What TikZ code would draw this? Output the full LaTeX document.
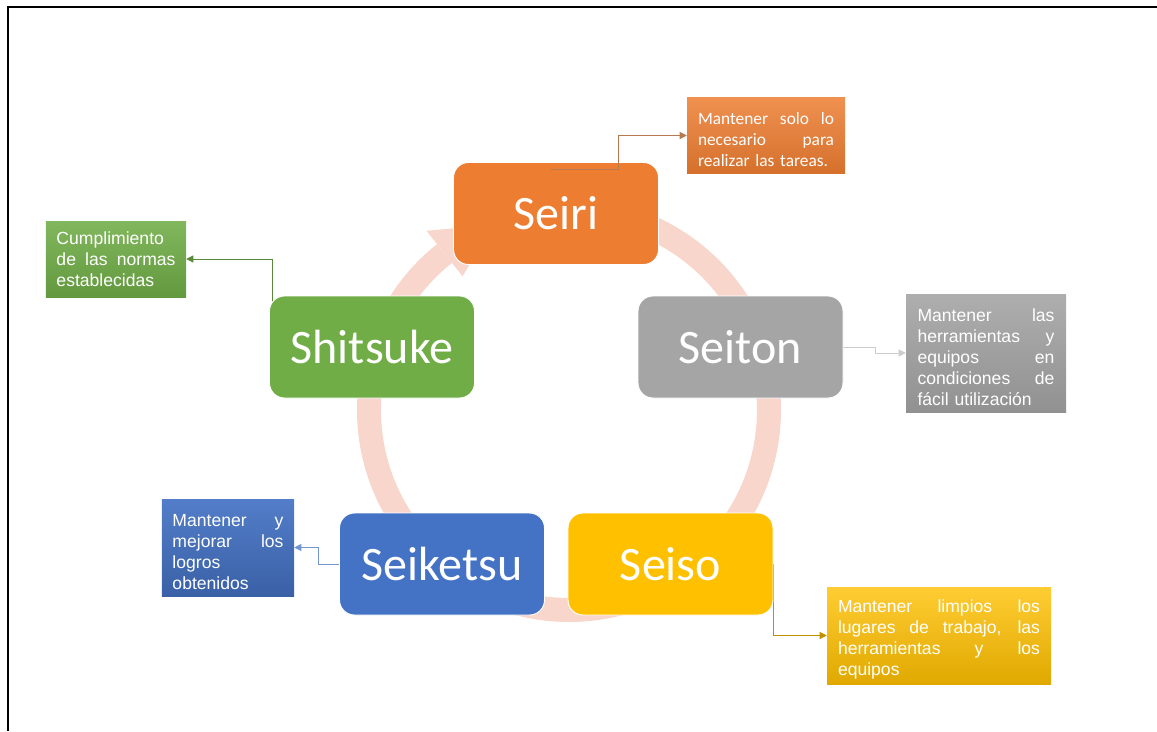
\documentclass[tikz,border=0pt]{standalone}
\usepackage{fontspec}
\setmainfont{Liberation Sans}
\newfontfamily\calibri{Carlito}
\usetikzlibrary{arrows.meta,backgrounds}

\definecolor{seiriorange}{HTML}{ED7D31}
\definecolor{seitongray}{HTML}{A5A5A5}
\definecolor{seisogold}{HTML}{FFC000}
\definecolor{seiketsublue}{HTML}{4472C4}
\definecolor{shitsukegreen}{HTML}{70AD47}
\definecolor{ringpink}{HTML}{F8D6CB}

% one justified line of a callout
\newcommand{\jline}[1]{\par\hbox to \hsize{\spaceskip=\fontdimen2\font plus 1fill\relax #1}\par}

\begin{document}
\begin{tikzpicture}[x=0.03cm, y=-0.03cm,
    stage/.style={rounded corners=0.45cm, draw=white, line width=0.8pt,
        minimum width=6.15cm, minimum height=3.06cm, text=white,
        font=\calibri\fontsize{41}{48}\selectfont},
    note/.style={text=white, align=left, inner ysep=0pt,
        font=\fontsize{15}{17.9}\selectfont},
    link/.style={line width=0.8pt, -{Triangle[length=6pt, width=6pt]}}]
    \useasboundingbox (0,0) rectangle (1157,731);

    % Frame
    \draw[line width=0.06cm] (8,731) -- (8,7) -- (1157,7);

    % The five S
    \foreach \name/\x/\y/\col/\word in {seiri/556/213.5/seiriorange/Seiri,
        seiton/740.5/347/seitongray/Seiton, seiso/670.5/564/seisogold/Seiso,
        seiketsu/442/564/seiketsublue/Seiketsu, shitsuke/372/347/shitsukegreen/Shitsuke} {
        \node[stage, fill=\col] (\name) at (\x,\y) {\word};
    }

    % Callouts
    \node[note, font=\calibri\fontsize{14.8}{17.9}\selectfont, top color=seiriorange!85!white,
        bottom color=seiriorange!90!black, text width=4.08cm, inner xsep=0.33cm,
        minimum height=2.25cm] (fseiri) at (766,135.5)
        {\jline{Mantener solo lo}\jline{necesario para}realizar las tareas.};
    \node[note, top color=seitongray!90!white, bottom color=seitongray!88!black,
        text width=4.11cm, inner xsep=0.345cm, minimum height=3.54cm] (fseiton) at (986,353)
        {\jline{Mantener las}\jline{herramientas y}\jline{equipos en}%
         \jline{condiciones de}fácil utilización};
    \node[note, top color=seisogold!80!white, bottom color=seisogold!88!black,
        text width=6.06cm, inner xsep=0.33cm, minimum height=2.91cm] (fseiso) at (939,635.5)
        {\jline{Mantener limpios los}\jline{lugares de trabajo, las}%
         \jline{herramientas y los}equipos};
    \node[note, top color=seiketsublue!92!white, bottom color=seiketsublue!85!black,
        text width=3.33cm, inner xsep=0.315cm, minimum height=2.91cm] (fseiketsu) at (228,547.5)
        {\jline{Mantener y}\jline{mejorar los}logros\\ obtenidos};
    \node[note, top color=shitsukegreen!88!white, bottom color=shitsukegreen!88!black,
        text width=3.57cm, inner xsep=0.315cm, minimum height=2.28cm] (fshitsuke) at (116,259)
        {Cumplimiento\jline{de las normas}establecidas};

    \begin{scope}[on background layer]
        % Cycle ring with its arrow head
        \begin{scope}[shift={(569,410)}, yscale=-1]
            \draw[ringpink, line width=0.72cm] (128.5:200) arc[start angle=128.5, end angle=460, radius=200];
            \fill[ringpink] (128.5:229) -- (112:200) -- (128.5:171) -- cycle;
        \end{scope}
        % Connectors
        \draw[link, color=seitongray!55!white] (seiton.east) -| ([shift={(-30,0)}]fseiton.west) -- (fseiton.west);
        \draw[link, color=seisogold!75!black] (seiso.east) |- (fseiso.west);
        \draw[link, color=seiketsublue!75!white] (seiketsu.west) -| ([shift={(24,0)}]fseiketsu.east) -- (fseiketsu.east);
        \draw[link, color=shitsukegreen!80!black] ([shift={(3,0)}]shitsuke.west) |- (fshitsuke.east);
    \end{scope}
    \draw[link, color=seiriorange!70!black!80!white] ([shift={(-5,7)}]seiri.north) -| ([shift={(-68,0)}]fseiri.west) -- (fseiri.west);
\end{tikzpicture}
\end{document}
